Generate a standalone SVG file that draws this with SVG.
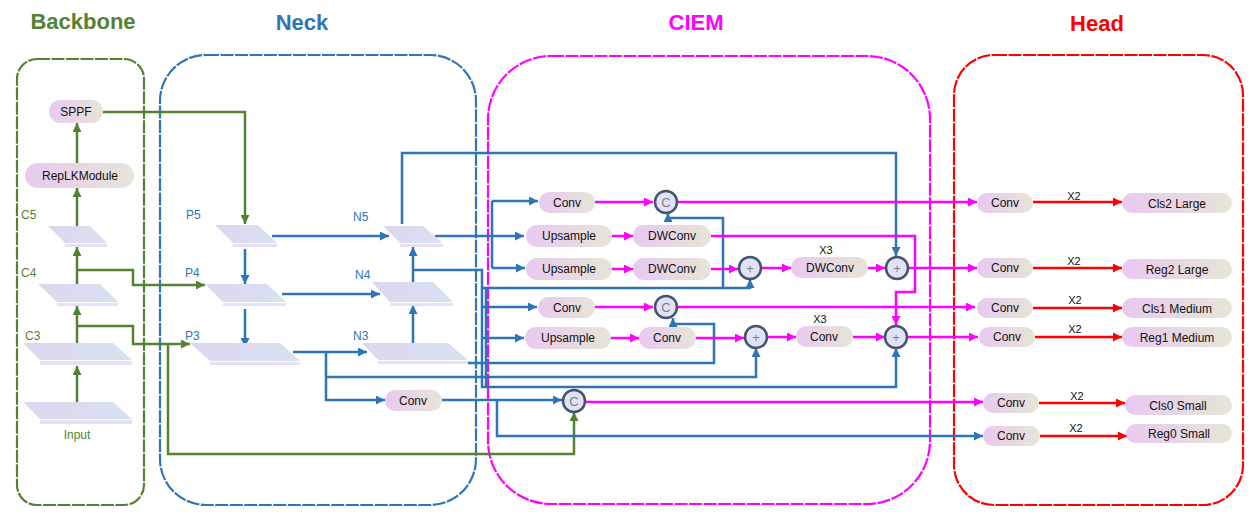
<svg xmlns="http://www.w3.org/2000/svg" width="1255" height="522" viewBox="0 0 1255 522">
<defs>
<linearGradient id="pill" x1="0" y1="0" x2="1" y2="0"><stop offset="0" stop-color="#E9C9F1"/><stop offset="1" stop-color="#E6E5D6"/></linearGradient>
<linearGradient id="plane" x1="0" y1="0" x2="1" y2="0"><stop offset="0" stop-color="#DED6F0"/><stop offset="1" stop-color="#D6E2EF"/></linearGradient>
<marker id="ag" viewBox="0 0 10 10" refX="10" refY="5" markerWidth="9" markerHeight="9" markerUnits="userSpaceOnUse" orient="auto"><path d="M0,0L10,5L0,10z" fill="#548235"/></marker>
<marker id="ab" viewBox="0 0 10 10" refX="10" refY="5" markerWidth="9" markerHeight="9" markerUnits="userSpaceOnUse" orient="auto"><path d="M0,0L10,5L0,10z" fill="#2E75B6"/></marker>
<marker id="am" viewBox="0 0 10 10" refX="10" refY="5" markerWidth="9" markerHeight="9" markerUnits="userSpaceOnUse" orient="auto"><path d="M0,0L10,5L0,10z" fill="#FF00FF"/></marker>
<marker id="ar" viewBox="0 0 10 10" refX="10" refY="5" markerWidth="9" markerHeight="9" markerUnits="userSpaceOnUse" orient="auto"><path d="M0,0L10,5L0,10z" fill="#FF0000"/></marker>
</defs>
<style>
text{font-family:"Liberation Sans",Arial,sans-serif}
.title{font-size:22px;font-weight:bold;text-anchor:middle}
.pill{fill:url(#pill)}
.pt{font-size:12px;fill:#111;text-anchor:middle}
.plane{fill:url(#plane)}
.strip{fill:#E5DFF7}
.lg{font-size:12px;fill:#548235}
.lb{font-size:12px;fill:#2E75B6}
.circ{fill:#E2E2F6;stroke:#44546A;stroke-width:2.5}
.ct{font-size:13px;fill:#7F7F7F;text-anchor:middle}
.x{font-size:11px;fill:#111;text-anchor:middle}
.g{fill:none;stroke:#548235;stroke-width:2.5;marker-end:url(#ag)}
.b{fill:none;stroke:#2E75B6;stroke-width:2.5;marker-end:url(#ab)}
.bn{fill:none;stroke:#2E75B6;stroke-width:2.5}
.m{fill:none;stroke:#FF00FF;stroke-width:2.5;marker-end:url(#am)}
.r{fill:none;stroke:#FF0000;stroke-width:2.5;marker-end:url(#ar)}
.box{fill:none;stroke-width:2.2;stroke-dasharray:13 1.5}
</style>
<rect width="1255" height="522" fill="#fff"/>
<g id="containers">
<rect class="box" x="17" y="59" width="127" height="446" rx="20" stroke="#548235" stroke-width="2.6"/>
<rect class="box" x="160" y="55" width="316" height="450" rx="46" stroke="#2E75B6"/>
<rect class="box" x="488" y="56" width="442" height="448" rx="63" stroke="#FF00FF"/>
<rect class="box" x="954" y="55" width="289" height="450" rx="40" stroke="#FF0000"/>
<text class="title" x="83" y="29" fill="#548235">Backbone</text>
<text class="title" x="302" y="30" fill="#2E75B6">Neck</text>
<text class="title" x="696" y="30" fill="#FF00FF">CIEM</text>
<text class="title" x="1097" y="31" fill="#FF0000">Head</text>
</g>
<g id="connectors">
<path class="g" d="M77,404V366"/>
<path class="g" d="M77,347V306"/>
<path class="g" d="M77,288V247"/>
<path class="g" d="M77,228V188"/>
<path class="g" d="M77,163V123"/>
<path class="g" d="M103,112H245V224" stroke-width="2"/>
<path class="g" d="M77,270H133V285H205" stroke-width="3"/>
<path class="g" d="M77,326H133V344H190"/>
<path class="g" d="M168,344V454H574V412"/>
<path class="b" d="M245,249V284" stroke-width="2"/>
<path class="b" d="M245,309V347" stroke-width="2"/>
<path class="b" d="M272,236H389" stroke-width="3"/>
<path class="b" d="M282,294H380" stroke-width="2"/>
<path class="b" d="M293,352H367" stroke-width="2"/>
<path class="b" d="M413,347V305"/>
<path class="b" d="M413,288V247"/>
<path class="b" d="M402,224V153H896V256" stroke-width="2"/>
<path class="b" d="M435,236H524"/>
<path class="bn" d="M492,201V268"/>
<path class="b" d="M492,201H538"/>
<path class="b" d="M492,268H525"/>
<path class="b" d="M413,270H482V387H896V348"/>
<path class="bn" d="M486,288V387" stroke-width="2"/>
<path class="b" d="M482,288H750V279"/>
<path class="b" d="M723,288V218H668V213" stroke-width="2"/>
<path class="b" d="M482,307H537"/>
<path class="b" d="M482,338H524"/>
<path class="b" d="M468,363H714V324H673V318" stroke-width="1.5"/>
<path class="b" d="M326,352V400H385"/>
<path class="b" d="M326,377H756V348"/>
<path class="b" d="M442,400H562" stroke-width="2"/>
<path class="b" d="M497,400V436H983"/>
<path class="m" d="M595,202H653"/>
<path class="m" d="M677,202H977"/>
<path class="m" d="M612,236H633"/>
<path class="m" d="M711,236H915V292H896V325" stroke-width="1.4"/>
<path class="m" d="M612,269H633"/>
<path class="m" d="M711,269H738"/>
<path class="m" d="M762,268H791"/>
<path class="m" d="M868,268H885"/>
<path class="m" d="M909,268H977"/>
<path class="m" d="M595,307H653"/>
<path class="m" d="M677,307H975"/>
<path class="m" d="M611,338H639"/>
<path class="m" d="M696,338H744"/>
<path class="m" d="M768,337H796"/>
<path class="m" d="M853,337H885"/>
<path class="m" d="M908,337H978"/>
<path class="m" d="M586,402H983"/>
<path class="r" d="M1033,202H1122"/>
<path class="r" d="M1033,268H1122"/>
<path class="r" d="M1033,308H1122"/>
<path class="r" d="M1035,337H1122"/>
<path class="r" d="M1039,403H1125"/>
<path class="r" d="M1040,436H1127"/>
</g>
<g id="input"><polygon class="plane" points="23,402 113,402 132,419 40,419"/><rect class="strip" x="40" y="420" width="92" height="4"/><text class="lg" x="77" y="439" text-anchor="middle">Input</text></g>
<g id="C3"><polygon class="plane" points="23,343 113,343 132,360 40,360"/><rect class="strip" x="40" y="361" width="92" height="4"/><text class="lg" x="25" y="340">C3</text></g>
<g id="C4"><polygon class="plane" points="38,284 100,284 118,302 57,302"/><rect class="strip" x="57" y="303" width="61" height="3"/><text class="lg" x="21" y="277">C4</text></g>
<g id="C5"><polygon class="plane" points="48,226 90,226 107,243 65,243"/><rect class="strip" x="65" y="244" width="42" height="3"/><text class="lg" x="21" y="219">C5</text></g>
<g id="replk"><rect class="pill" x="25" y="163" width="109" height="25" rx="12.5"/><text class="pt" x="80" y="180">RepLKModule</text></g>
<g id="sppf"><rect class="pill" x="49" y="100" width="54" height="23" rx="11.5"/><text class="pt" x="76" y="116">SPPF</text></g>
<g id="P5"><polygon class="plane" points="215,225 258,225 277,243 233,243"/><rect class="strip" x="233" y="244" width="44" height="3"/><text class="lb" x="186" y="219">P5</text></g>
<g id="P4"><polygon class="plane" points="205,284 267,284 286,302 223,302"/><rect class="strip" x="223" y="303" width="63" height="3"/><text class="lb" x="185" y="277">P4</text></g>
<g id="P3"><polygon class="plane" points="190,343 280,343 300,361 210,361"/><rect class="strip" x="210" y="362" width="90" height="3"/><text class="lb" x="185" y="340">P3</text></g>
<g id="N5"><polygon class="plane" points="383,226 423,226 443,243 400,243"/><rect class="strip" x="400" y="244" width="43" height="3"/><text class="lb" x="353" y="221">N5</text></g>
<g id="N4"><polygon class="plane" points="372,282 433,282 453,302 390,302"/><rect class="strip" x="390" y="303" width="63" height="3"/><text class="lb" x="355" y="279">N4</text></g>
<g id="N3"><polygon class="plane" points="362,343 448,343 468,360 378,360"/><rect class="strip" x="378" y="361" width="90" height="3"/><text class="lb" x="353" y="340">N3</text></g>
<g id="neckconv"><rect class="pill" x="385" y="390" width="57" height="21" rx="10.5"/><text class="pt" x="413" y="405">Conv</text></g>
<g id="conv1"><rect class="pill" x="539" y="192" width="56" height="21" rx="10.5"/><text class="pt" x="567" y="207">Conv</text></g>
<g id="up1"><rect class="pill" x="526" y="225" width="86" height="22" rx="11"/><text class="pt" x="569" y="240">Upsample</text></g>
<g id="dw1"><rect class="pill" x="633" y="225" width="78" height="22" rx="11"/><text class="pt" x="672" y="240">DWConv</text></g>
<g id="up2"><rect class="pill" x="526" y="258" width="86" height="22" rx="11"/><text class="pt" x="569" y="273">Upsample</text></g>
<g id="dw2"><rect class="pill" x="633" y="258" width="78" height="22" rx="11"/><text class="pt" x="672" y="273">DWConv</text></g>
<g id="dw3"><rect class="pill" x="791" y="257" width="77" height="21" rx="10.5"/><text class="pt" x="830" y="272">DWConv</text><text class="x" x="826" y="254">X3</text></g>
<g id="conv2"><rect class="pill" x="538" y="297" width="57" height="21" rx="10.5"/><text class="pt" x="567" y="312">Conv</text></g>
<g id="up3"><rect class="pill" x="525" y="327" width="86" height="22" rx="11"/><text class="pt" x="568" y="342">Upsample</text></g>
<g id="conv3"><rect class="pill" x="639" y="327" width="57" height="22" rx="11"/><text class="pt" x="667" y="342">Conv</text></g>
<g id="conv4"><rect class="pill" x="796" y="326" width="57" height="21" rx="10.5"/><text class="pt" x="824" y="341">Conv</text><text class="x" x="820" y="323">X3</text></g>
<g id="c1"><circle class="circ" cx="666" cy="202" r="11"/><text class="ct" x="666" y="207">C</text></g>
<g id="c2"><circle class="circ" cx="666" cy="307" r="11"/><text class="ct" x="666" y="312">C</text></g>
<g id="c3"><circle class="circ" cx="574" cy="401" r="11"/><text class="ct" x="574" y="406">C</text></g>
<g id="add1"><circle class="circ" cx="750" cy="268" r="11"/><text class="ct" x="750" y="273" fill="#555">+</text></g>
<g id="add2"><circle class="circ" cx="897" cy="268" r="11"/><text class="ct" x="897" y="273" fill="#555">+</text></g>
<g id="add3"><circle class="circ" cx="756" cy="337" r="11"/><text class="ct" x="756" y="342" fill="#555">+</text></g>
<g id="add4"><circle class="circ" cx="896" cy="337" r="11"/><text class="ct" x="896" y="342" fill="#555">+</text></g>
<g id="hconv1"><rect class="pill" x="977" y="193" width="56" height="20" rx="10"/><text class="pt" x="1005" y="207">Conv</text><text class="x" x="1074" y="200">X2</text></g>
<g id="cls2"><rect class="pill" x="1122" y="193" width="110" height="20" rx="10"/><text class="pt" x="1177" y="208">Cls2 Large</text></g>
<g id="hconv2"><rect class="pill" x="977" y="258" width="56" height="20" rx="10"/><text class="pt" x="1005" y="272">Conv</text><text class="x" x="1074" y="265">X2</text></g>
<g id="reg2"><rect class="pill" x="1122" y="259" width="110" height="20" rx="10"/><text class="pt" x="1177" y="274">Reg2 Large</text></g>
<g id="hconv3"><rect class="pill" x="977" y="298" width="56" height="20" rx="10"/><text class="pt" x="1005" y="312">Conv</text><text class="x" x="1075" y="304">X2</text></g>
<g id="cls1"><rect class="pill" x="1122" y="298" width="110" height="20" rx="10"/><text class="pt" x="1177" y="313">Cls1 Medium</text></g>
<g id="hconv4"><rect class="pill" x="979" y="327" width="56" height="20" rx="10"/><text class="pt" x="1007" y="341">Conv</text><text class="x" x="1075" y="333">X2</text></g>
<g id="reg1"><rect class="pill" x="1122" y="327" width="110" height="20" rx="10"/><text class="pt" x="1177" y="342">Reg1 Medium</text></g>
<g id="hconv5"><rect class="pill" x="983" y="393" width="56" height="20" rx="10"/><text class="pt" x="1011" y="407">Conv</text><text class="x" x="1077" y="400">X2</text></g>
<g id="cls0"><rect class="pill" x="1125" y="395" width="107" height="20" rx="10"/><text class="pt" x="1178" y="410">Cls0 Small</text></g>
<g id="hconv6"><rect class="pill" x="983" y="426" width="57" height="20" rx="10"/><text class="pt" x="1011" y="440">Conv</text><text class="x" x="1076" y="432">X2</text></g>
<g id="reg0"><rect class="pill" x="1126" y="424" width="106" height="19" rx="9.5"/><text class="pt" x="1179" y="438">Reg0 Small</text></g>
</svg>
